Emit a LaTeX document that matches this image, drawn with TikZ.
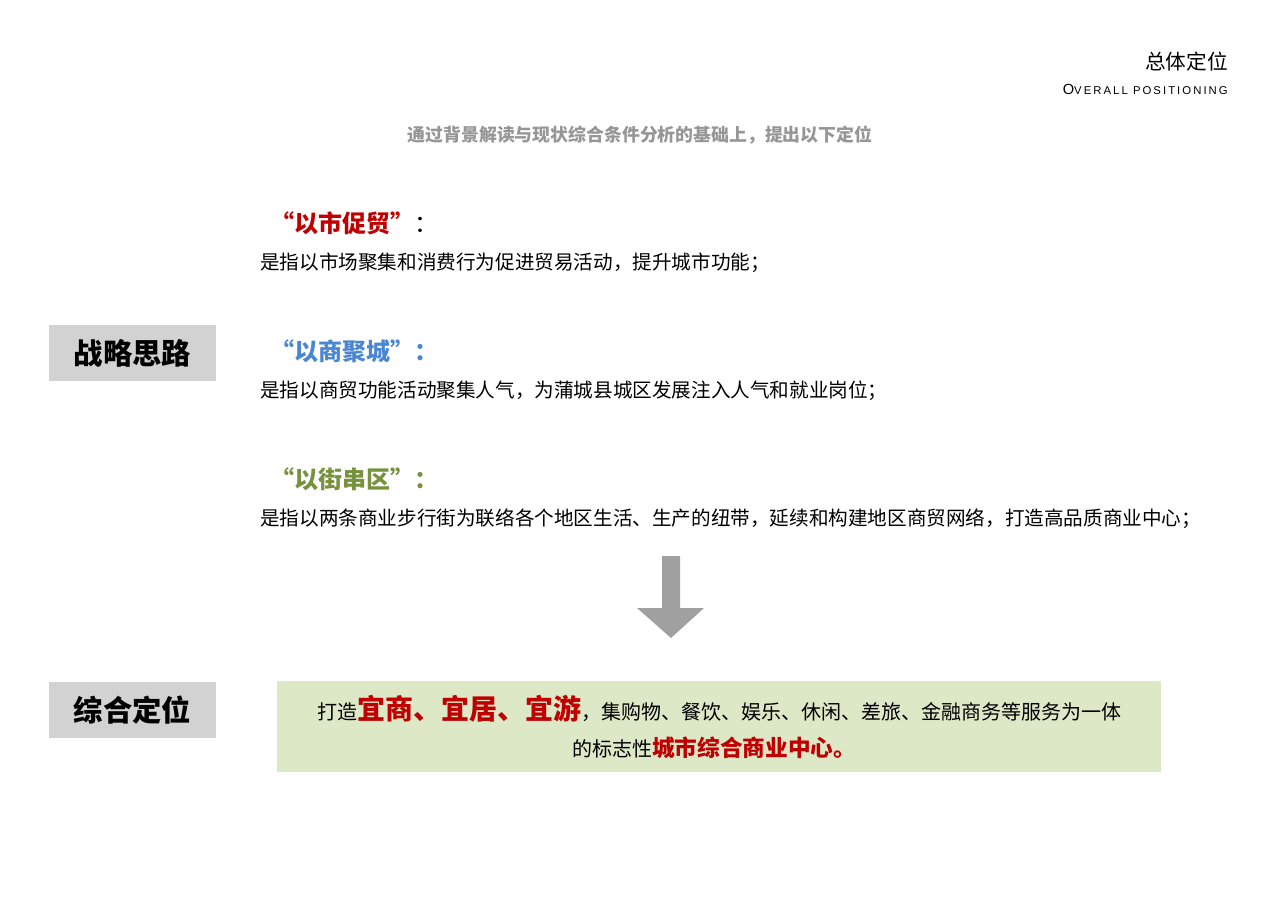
\documentclass[tikz,border=0pt]{standalone}
\usepackage{fontspec}
\setmainfont{Noto Sans CJK SC}
\newfontfamily\latf{Liberation Sans}
\definecolor{myred}{RGB}{192,0,0}
\definecolor{myblue}{RGB}{74,134,210}
\definecolor{mygreen}{RGB}{118,146,60}
\definecolor{boxgray}{RGB}{210,210,210}
\definecolor{boxgreen}{RGB}{221,232,199}
\definecolor{arrgray}{RGB}{160,160,160}
\definecolor{subgray}{RGB}{150,150,150}
\tikzset{
  body/.style={anchor=west,inner sep=0pt,font=\fontsize{14.7pt}{16pt}\selectfont},
  head/.style={anchor=west,inner sep=0pt,font=\fontsize{18pt}{20pt}\selectfont\bfseries},
  graybox/.style={fill=boxgray,draw=none,minimum width=125.25pt,minimum height=42pt,inner sep=0pt,font=\fontsize{22pt}{24pt}\selectfont\bfseries},
}
\begin{document}
\begin{tikzpicture}[x=0.75pt,y=-0.75pt]
\useasboundingbox (0,0) rectangle (1280,905);
\node[anchor=east,inner sep=0pt,font=\fontsize{15.5pt}{17pt}\selectfont] (t1) at (1228,62) {总体定位};
\node[anchor=east,inner sep=0pt,font=\latf] (t2) at (1228,89) {\fontsize{11pt}{12pt}\selectfont O\fontsize{8.5pt}{10pt}\selectfont\addfontfeature{LetterSpace=18}VERALL POSITIONING};
\node[inner sep=0pt,text=subgray,font=\fontsize{13.4pt}{15pt}\selectfont\bfseries] (sub) at (640,135) {通过背景解读与现状综合条件分析的基础上，提出以下定位};

\node[head,text=myred] (h1) at (270,223) {“以市促贸”\textcolor{black}{\mdseries ：}};
\node[body] (b1) at (260,263) {是指以市场聚集和消费行为促进贸易活动，提升城市功能；};
\node[head,text=myblue] (h2) at (270,351) {“以商聚城”：};
\node[body] (b2) at (260,391) {是指以商贸功能活动聚集人气，为蒲城县城区发展注入人气和就业岗位；};
\node[head,text=mygreen] (h3) at (270,479) {“以街串区”：};
\node[body] (b3) at (260,519) {是指以两条商业步行街为联络各个地区生活、生产的纽带，延续和构建地区商贸网络，打造高品质商业中心；};

\node[graybox] (g1) at (132.5,353) {战略思路};
\node[graybox] (g2) at (132.5,710) {综合定位};

\fill[arrgray] (662,556) -- (680,556) -- (680,608) -- (704,608) -- (671,638) -- (637,608) -- (662,608) -- cycle;

\fill[boxgreen] (277,681) rectangle (1161,772);
\node[inner sep=0pt,font=\fontsize{15pt}{17pt}\selectfont] (l1) at (719,709) {打造\textcolor{myred}{\fontsize{21pt}{23pt}\selectfont\bfseries 宜商、宜居、宜游}，集购物、餐饮、娱乐、休闲、差旅、金融商务等服务为一体};
\node[inner sep=0pt,font=\fontsize{15pt}{17pt}\selectfont] (l2) at (714,748) {的标志性\textcolor{myred}{\fontsize{17pt}{19pt}\selectfont\bfseries 城市综合商业中心。}};
\end{tikzpicture}
\end{document}
